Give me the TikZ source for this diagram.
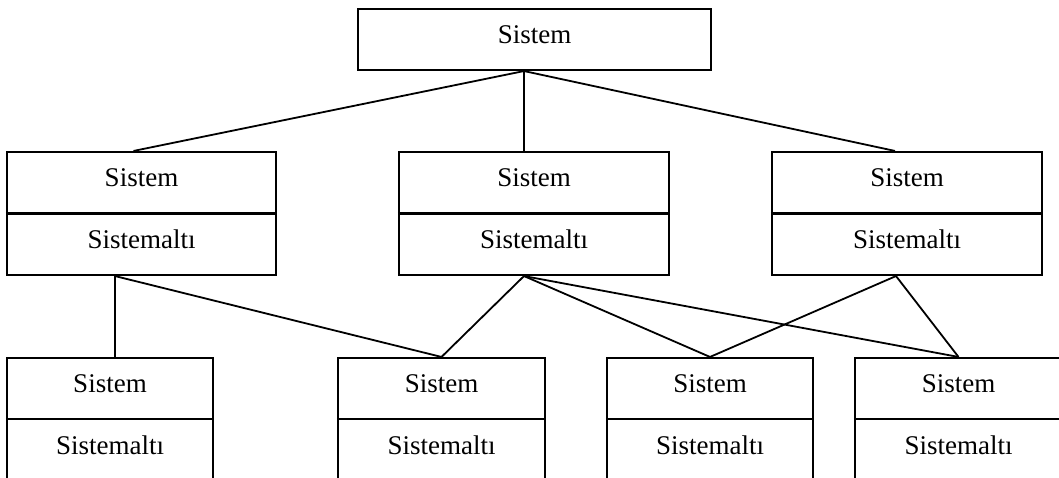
\documentclass[tikz,border=0pt]{standalone}
\usepackage{fontspec}
\setmainfont{Liberation Serif}
\usetikzlibrary{calc}
\begin{document}
\begin{tikzpicture}[x=1pt,y=-1pt,
  box/.style={draw=black, line width=2.1pt, fill=white, inner sep=0pt, minimum height=123pt},
  topbox/.style={box, minimum height=61pt},
  lbl/.style={anchor=base, inner sep=0pt, font=\fontsize{27}{30}\selectfont},
  link/.style={draw=black, line width=1.8pt}]
\clip (0,0) rectangle (1059,478);

% boxes
\node[topbox, minimum width=353pt] (T) at (534.5,39.5) {};
\node[box, minimum width=269pt] (M1) at (141.5,213.5) {};
\node[box, minimum width=270pt] (M2) at (534,213.5) {};
\node[box, minimum width=270pt] (M3) at (907,213.5) {};
\node[box, minimum width=206pt, minimum height=122pt] (B1) at (110,419) {};
\node[box, minimum width=207pt, minimum height=122pt] (B2) at (441.5,419) {};
\node[box, minimum width=206pt, minimum height=122pt] (B3) at (710,419) {};
\node[box, minimum width=207pt, minimum height=122pt] (B4) at (958.5,419) {};

% dividers between the two compartments
\foreach \b in {M1,M2,M3,B1,B2,B3,B4}
  \draw[line width=2.1pt] (\b.west) -- (\b.east);

% labels
\node[lbl] (Tt) at ($(T.center)+(0,4.5)$) {Sistem};
\foreach \b in {M1,M2,M3}{
  \node[lbl] (\b s) at ($(\b.center)+(0,-26.5)$) {Sistem};
  \node[lbl] (\b a) at ($(\b.center)+(0,34.5)$) {Sistemaltı};
}
\foreach \b in {B1,B2,B3,B4}{
  \node[lbl] (\b s) at ($(\b.center)+(0,-26.5)$) {Sistem};
  \node[lbl] (\b a) at ($(\b.center)+(0,35)$) {Sistemaltı};
}

% connectors
\draw[link] ($(T.south)+(-10.5,0)$) -- ($(M1.north)+(-8,0)$);
\draw[link] ($(T.south)+(-10.5,0)$) -- ($(M2.north)+(-10,0)$);
\draw[link] ($(T.south)+(-10.5,0)$) -- ($(M3.north)+(-12,0)$);
\draw[link] ($(M1.south)+(-26.5,0)$) -- ($(B1.north)+(5,0)$);
\draw[link] ($(M1.south)+(-26.5,0)$) -- (B2.north);
\draw[link] ($(M2.south)+(-10,0)$) -- (B2.north);
\draw[link] ($(M2.south)+(-10,0)$) -- (B3.north);
\draw[link] ($(M2.south)+(-10,0)$) -- (B4.north);
\draw[link] ($(M3.south)+(-11,0)$) -- (B3.north);
\draw[link] ($(M3.south)+(-11,0)$) -- (B4.north);
\end{tikzpicture}
\end{document}
